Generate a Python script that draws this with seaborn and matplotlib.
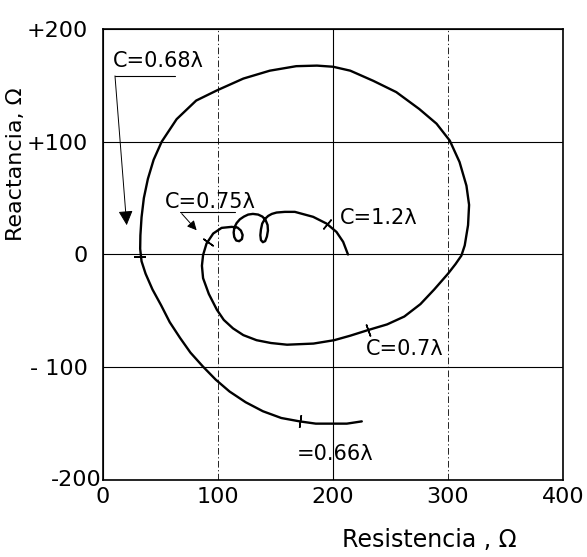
import matplotlib
matplotlib.use("Agg")
import matplotlib.pyplot as plt
import seaborn as sns
import pandas as pd

# Impedance locus of the antenna (resistance R, reactance X), in ohms,
# from the short end (C=0.66λ) spiralling inwards to C=1.2λ
resistance = [225, 212, 200, 185, 171, 155, 139, 124, 110, 98, 87, 76, 67, 58,
              50.5, 43, 37, 33.5, 32.3, 32.5, 33.5, 35.5, 39, 44, 51, 64, 81, 99,
              122, 145, 168, 186, 200, 215, 235, 255, 275, 290, 301.5, 310, 316,
              318.3, 317.4, 314.5, 311.6, 306.5, 300, 288, 276, 262, 247, 230.5,
              215, 201, 183, 160, 146, 133.5, 122, 113, 105, 99, 92, 87, 86, 87,
              90, 95.8, 103.1, 111.8, 116.9, 119.9, 121.4, 120.8, 118.4, 115.8,
              114.1, 113.6, 114.2, 116.2, 119.0, 122.5, 126.2, 130.3, 134.9,
              138.6, 141.4, 143.1, 143.4, 142.5, 141.0, 139.0, 137.3, 136.8,
              137.3, 138.4, 140.7, 143.6, 146.8, 150.9, 158.1, 166.8, 182.7,
              194.4, 203, 208.8, 213]
reactance = [-148, -150, -150, -150, -148, -145, -139, -131, -121.5, -111, -99.5,
             -87, -74, -60, -45, -31, -17, -6, 5, 17, 33, 50, 67, 84, 100, 120,
             136.5, 145.5, 156, 163, 167, 167.5, 166.5, 163, 154, 144, 129, 116,
             101, 82, 61, 44, 26, 8, -1, -8.5, -17, -31, -44, -55, -62, -67,
             -72, -76, -79, -80, -78.5, -76, -71.5, -65.5, -58, -49, -35, -21,
             -10, -0.5, 9.7, 18.6, 23.6, 24.5, 23.9, 21.2, 17.3, 13.7, 11.8,
             12.4, 15.5, 19.5, 23.9, 27.9, 31.2, 33.6, 35.4, 36.0, 35.4, 33.6,
             30.4, 26.1, 21.2, 15.9, 11.9, 10.9, 12.8, 17.1, 22.1, 27.4, 31.4,
             34.2, 36.0, 37.2, 37.8, 37.8, 33.4, 27.4, 20, 11.2, 0]

# Marked electrical lengths along the locus
mark_r = [171, 32.3, 230.5, 91, 195]
mark_x = [-148, -2, -67, 11.5, 27]
mark_angle = [-8, 90, 20, 55, -40]

ticks = [0, 100, 200, 300, 400]
x_ticklabels = ["0", "100", "200", "300", "400"]
y_ticks = [-200, -100, 0, 100, 200]
y_ticklabels = ["", "- 100", "0", "+100", "+200"]
corner_label = "-200"

df = pd.DataFrame({"R": resistance, "X": reactance})

sns.set_style("white")
plt.rcParams["font.family"] = ["DejaVu Sans"]
plt.rcParams["text.color"] = "black"
plt.rcParams["axes.labelcolor"] = "black"

fig = plt.figure(figsize=(5.87, 5.57), dpi=100)
ax = fig.add_axes([0.1755, 0.1382, 0.7837, 0.8098])

sns.lineplot(data=df, x="R", y="X", sort=False, estimator=None,
             color="black", lw=1.7, ax=ax)

for r, x, a in zip(mark_r, mark_x, mark_angle):
    ax.plot([r], [x], marker=(2, 2, a), ms=9, mew=1.1, color="black", ls="none")

ax.set_xlim(0, 400)
ax.set_ylim(-200, 200)
ax.set_xticks(ticks)
ax.set_xticklabels(x_ticklabels)
ax.set_yticks(y_ticks)
ax.set_yticklabels(y_ticklabels)
ax.tick_params(length=0, labelsize=16, colors="black")
ax.tick_params(axis="y", pad=11)
ax.tick_params(axis="x", pad=5)
ax.text(-0.002, 0.0, corner_label, transform=ax.transAxes, fontsize=16,
        ha="right", va="center")

ax.grid(True, color="black", lw=0.8)
for i, gl in enumerate(ax.xaxis.get_gridlines()):
    if ticks[i] in (100, 300):
        gl.set_linestyle((0, (8, 3, 1.5, 3)))
        gl.set_linewidth(0.6)
for sp in ax.spines.values():
    sp.set_color("black")
    sp.set_linewidth(1.2)

ax.set_xlabel("Resistencia , Ω", fontsize=17)
ax.set_ylabel("Reactancia, Ω", fontsize=16)
ax.xaxis.set_label_coords(0.709, -0.106)
ax.yaxis.set_label_coords(-0.167, 0.70)

# Labels for the electrical length C
ax.text(47.8, 171.7, "C=0.68λ", fontsize=15, ha="center", va="center")
ax.plot([10.4, 62.5], [158.4, 158.4], color="black", lw=0.8)
ax.annotate("", xy=(20.6, 26), xytext=(10.4, 158.4),
            arrowprops=dict(arrowstyle="-|>", lw=0.7, color="black",
                            mutation_scale=22, shrinkA=0, shrinkB=0))

ax.text(93, 46.9, "C=0.75λ", fontsize=15, ha="center", va="center")
ax.plot([67, 115], [38, 38], color="black", lw=0.8)
ax.annotate("", xy=(81.4, 21.5), xytext=(68.4, 36.3),
            arrowprops=dict(arrowstyle="-|>", lw=0.7, color="black",
                            mutation_scale=14, shrinkA=0, shrinkB=0))

ax.text(205.9, 32.7, "C=1.2λ", fontsize=15, ha="left", va="center")
ax.text(228.5, -84, "C=0.7λ", fontsize=15, ha="left", va="center")
ax.text(168.5, -177, "=0.66λ", fontsize=15, ha="left", va="center")

fig.savefig("out.png", dpi=100)
